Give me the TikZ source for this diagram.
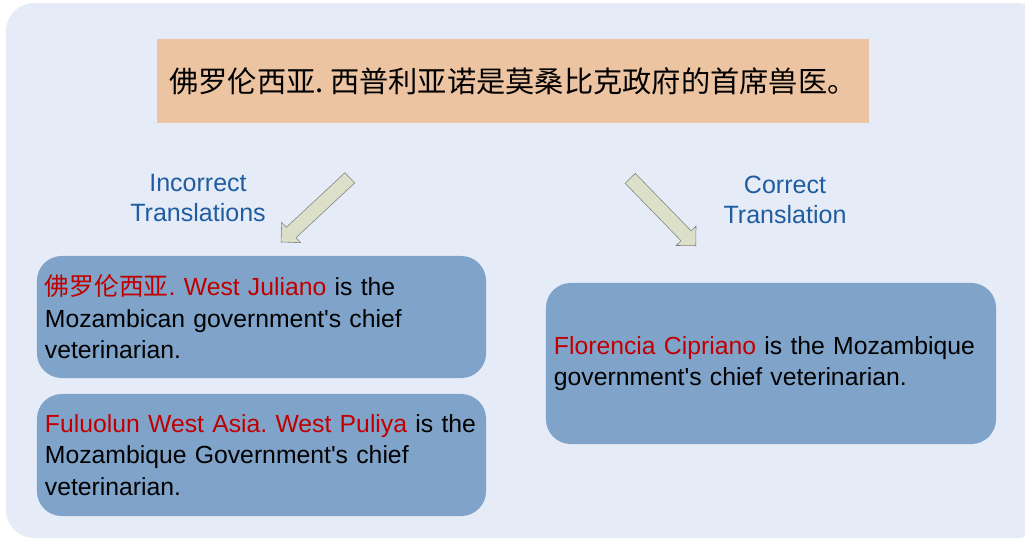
\documentclass[tikz,border=0pt]{standalone}
\usepackage{fontspec}
\setmainfont{Liberation Sans}
\newfontfamily\cjk{Noto Sans CJK SC}
\usetikzlibrary{shapes.arrows}
\frenchspacing
\newcommand{\px}{0.025cm}
\definecolor{bgblue}{HTML}{E6ECF7}
\definecolor{peach}{HTML}{EDC4A2}
\definecolor{boxblue}{HTML}{7FA3C9}
\definecolor{arrowfill}{HTML}{DDE0C8}
\definecolor{labelblue}{HTML}{1F5CA0}
\definecolor{wrongred}{HTML}{C00000}
\newcommand{\hl}[1]{\textcolor{wrongred}{#1}}
\newcommand{\q}{\textquotesingle}

\begin{document}
\begin{tikzpicture}[x=\px, y=-\px,
    source/.style={fill=peach, minimum width=17.8cm, minimum height=2.1cm, inner sep=0pt, font=\cjk\fontsize{20.8}{25}\selectfont},
    panel/.style={fill=boxblue, rounded corners=0.62cm, inner xsep=0.2cm, align=left, font=\fontsize{17.6}{22.4}\selectfont},
    caption/.style={text=labelblue, align=center, font=\fontsize{17.8}{21}\selectfont},
    blockarrow/.style={single arrow, draw=gray, fill=arrowfill, minimum height=2.35cm, inner sep=0.17cm, single arrow head extend=0.17cm}]
    \useasboundingbox (0,0) rectangle (1025,540);
    % background
    \begin{scope}
        \clip (0,0) rectangle (1025,540);
        \fill[bgblue, rounded corners=0.7cm] (6,3) rectangle (1045,538);
    \end{scope}

    % sentence to translate
    \node[source] (source) at (513,81) {佛罗伦西亚. 西普利亚诺是莫桑比克政府的首席兽医。};

    % arrows and captions
    \node[blockarrow, rotate=223] (wrong-arrow) at (318,207.5) {};
    \node[blockarrow, rotate=-45.8] (right-arrow) at (660.5,209.5) {};
    \node[caption] (wrong-caption) at (198,198) {Incorrect\\Translations};
    \node[caption] (right-caption) at (785,200) {Correct\\Translation};

    % translations
    \node[panel, text width=10.825cm, minimum height=3.05cm] (wrong-1) at (261.5,317)
        {\mbox{\hl{{\cjk 佛罗伦西亚}. West Juliano} is the}\\Mozambican government\q s chief\\veterinarian.};
    \node[panel, text width=10.825cm, minimum height=3.05cm] (wrong-2) at (261.5,455)
        {\mbox{\hl{Fuluolun West Asia. West Puliya} is the}\\\mbox{Mozambique Government\q s chief}\\veterinarian.};
    \node[panel, text width=10.85cm, minimum height=4.025cm] (right-1) at (771,363.5)
        {\mbox{\hl{Florencia Cipriano} is the Mozambique}\\\mbox{government\q s chief veterinarian.}};

\end{tikzpicture}
\end{document}
